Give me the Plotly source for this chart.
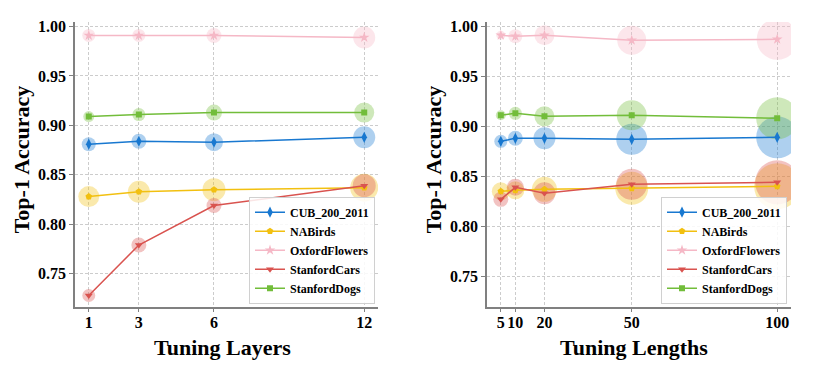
import plotly.graph_objects as go

# x settings
layers = [1, 3, 6, 12]
lengths = [5, 10, 20, 50, 100]
names = ["CUB_200_2011", "NABirds", "OxfordFlowers", "StanfordCars", "StanfordDogs"]

# top-1 accuracy vs tuning layers
cub_layers = [0.881, 0.884, 0.883, 0.888]
nab_layers = [0.828, 0.833, 0.835, 0.837]
flw_layers = [0.991, 0.991, 0.991, 0.989]
car_layers = [0.728, 0.779, 0.819, 0.839]
dog_layers = [0.909, 0.911, 0.913, 0.913]

# bubble size vs tuning layers
cub_layers_sz = [14, 15, 18, 22]
nab_layers_sz = [21, 22, 23, 28]
flw_layers_sz = [13, 13, 15, 22]
car_layers_sz = [13, 15, 15, 23]
dog_layers_sz = [11, 13, 16, 20]

# top-1 accuracy vs tuning lengths
cub_len = [0.885, 0.888, 0.888, 0.887, 0.889]
nab_len = [0.835, 0.836, 0.837, 0.838, 0.840]
flw_len = [0.991, 0.990, 0.991, 0.986, 0.987]
car_len = [0.827, 0.839, 0.833, 0.842, 0.844]
dog_len = [0.911, 0.913, 0.910, 0.911, 0.908]

# bubble size vs tuning lengths
cub_len_sz = [13, 15, 22, 31, 42]
nab_len_sz = [18, 18, 25, 33, 46]
flw_len_sz = [9, 14, 20, 29, 41]
car_len_sz = [15, 17, 22, 31, 44]
dog_len_sz = [10, 13, 20, 30, 42]

y_ticks = [0.75, 0.80, 0.85, 0.90, 0.95, 1.00]

colors = ["#1878d0", "#f2c010", "#f5b8c6", "#d9534f", "#72bd3a"]
symbols = ["diamond-tall", "pentagon", "star", "triangle-down", "square"]
msizes = [8, 7, 8, 7, 6]

FONT = "Liberation Serif"
# page body has an 8px margin, so the figure is shrunk and shifted by it
OFF = 8
W, H = 830 - OFF, 366 - OFF


def px(x):
    return (x - OFF) / W


def py(y):
    return 1 - (y - OFF) / H


fig = go.Figure()

panels = [
    ("x", "y", "legend", layers,
     [cub_layers, nab_layers, flw_layers, car_layers, dog_layers],
     [cub_layers_sz, nab_layers_sz, flw_layers_sz, car_layers_sz, dog_layers_sz]),
    ("x2", "y2", "legend2", lengths,
     [cub_len, nab_len, flw_len, car_len, dog_len],
     [cub_len_sz, nab_len_sz, flw_len_sz, car_len_sz, dog_len_sz]),
]

for xa, ya, lg, xs, series, sizes in panels:
    # translucent bubbles
    for i in range(len(names)):
        fig.add_trace(go.Scatter(
            x=xs, y=series[i], xaxis=xa, yaxis=ya, mode="markers",
            marker=dict(size=sizes[i], color=colors[i], opacity=0.35,
                        line=dict(width=0)),
            showlegend=False, hoverinfo="skip"))
    # lines with markers
    for i in range(len(names)):
        fig.add_trace(go.Scatter(
            x=xs, y=series[i], xaxis=xa, yaxis=ya, mode="lines+markers",
            name=names[i], legend=lg,
            line=dict(color=colors[i], width=1.5),
            marker=dict(symbol=symbols[i], size=msizes[i], color=colors[i],
                        line=dict(width=0))))

axis_common = dict(
    showline=True, linecolor="#808080", linewidth=1.5,
    ticks="outside", ticklen=4, tickcolor="#808080", tickwidth=1,
    showgrid=True, gridcolor="#cccccc", gridwidth=1, griddash="3px,2px",
    zeroline=False, tickangle=0,
    tickfont=dict(family=FONT, size=16, color="black", weight="bold"),
)
xaxis_common = dict(axis_common, ticklabelstandoff=-4)

fig.update_layout(
    width=W, height=H,
    margin=dict(l=0, r=0, t=0, b=0),
    plot_bgcolor="white", paper_bgcolor="white",
    font=dict(family=FONT, color="black"),
    xaxis=dict(domain=[px(75), px(378)], range=[0.45, 12.55],
               tickvals=layers, anchor="y", **xaxis_common),
    yaxis=dict(domain=[py(306), py(18)], range=[0.7167, 1.0047],
               tickvals=y_ticks, tickformat=".2f", anchor="x", **axis_common),
    xaxis2=dict(domain=[px(487), px(791)], range=[0.25, 104.75],
                tickvals=lengths, anchor="y2", **xaxis_common),
    yaxis2=dict(domain=[py(306), py(18)], range=[0.7197, 1.0044],
                tickvals=y_ticks, tickformat=".2f", anchor="x2", **axis_common),
)

legend_common = dict(
    bgcolor="rgba(255,255,255,0.85)", bordercolor="#d0d0d0", borderwidth=1,
    font=dict(family=FONT, size=12, color="black", weight="bold"),
    xanchor="right", yanchor="bottom", tracegroupgap=0, itemwidth=30,
)
fig.update_layout(
    legend=dict(x=px(375), y=py(303), **legend_common),
    legend2=dict(x=px(787), y=py(303), **legend_common),
)

title_font = dict(family=FONT, size=22, color="black", weight="bold")
for tx, ty, txt, ang in [(21, 157, "Top-1 Accuracy", -90),
                         (433, 157, "Top-1 Accuracy", -90),
                         (222, 347, "Tuning Layers", 0),
                         (634, 347, "Tuning Lengths", 0)]:
    fig.add_annotation(text=txt, x=px(tx), y=py(ty), xref="paper", yref="paper",
                       textangle=ang, showarrow=False, font=title_font,
                       xanchor="center", yanchor="middle")

fig.write_html("out.html")
